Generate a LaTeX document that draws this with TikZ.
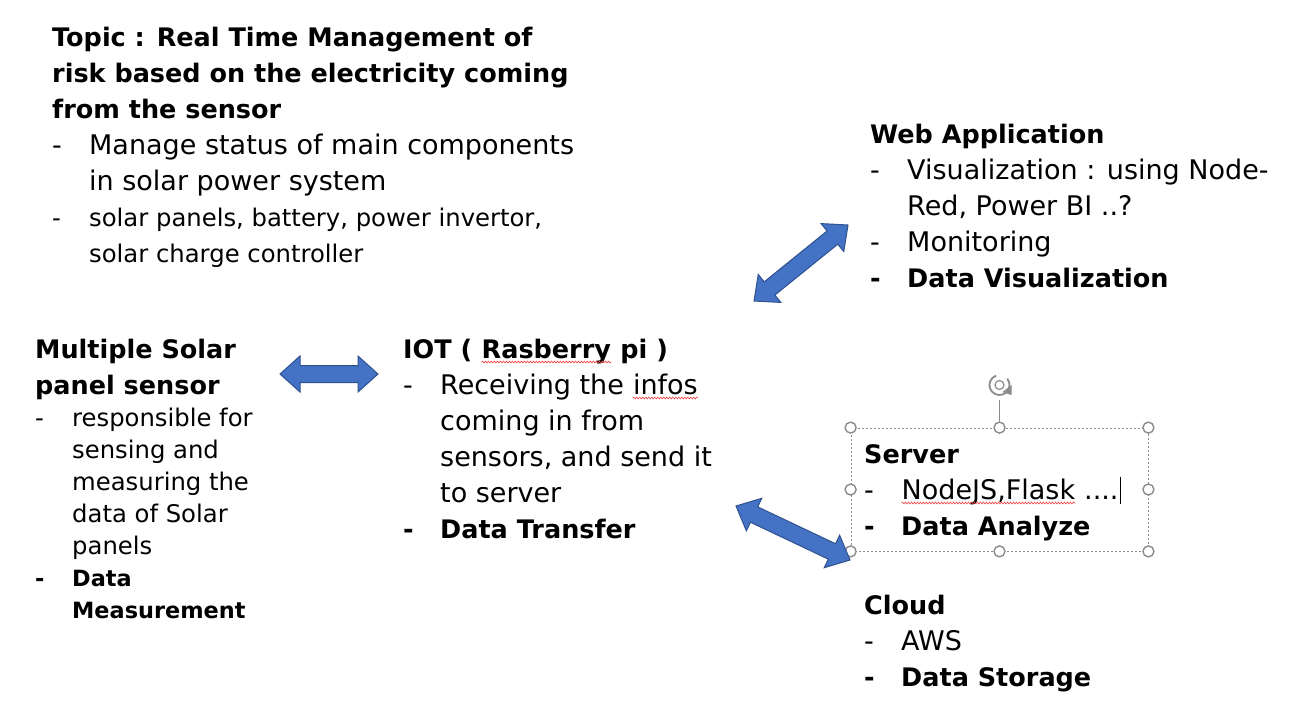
\documentclass[tikz,border=0pt]{standalone}
\usepackage{fontspec}
\setmainfont{DejaVu Sans}
\usetikzlibrary{calc,decorations.pathmorphing}

\definecolor{arrowblue}{HTML}{4472C4}
\definecolor{arrowedge}{HTML}{2F528F}
\definecolor{handlegray}{HTML}{8C8C8C}
\definecolor{typored}{HTML}{F04040}

\newlength{\dashw}\setlength{\dashw}{37pt}
\newcommand{\itm}[1]{\makebox[\dashw][l]{-}#1}
\newcommand{\cnt}[1]{\hspace*{\dashw}#1}
\newcommand{\hd}[1]{{\fontsize{25.5}{36}\selectfont\bfseries #1}}
\newcommand{\sm}{\fontsize{24.3}{32}\selectfont}
\newcommand{\typo}[1]{\tikz[baseline=(w.base), x=1cm, y=1cm]{%
  \node[inner sep=0pt, anchor=base] (w) {#1};
  \draw[typored, line width=0.6pt, decorate,
    decoration={snake, amplitude=0.9pt, segment length=3pt}]
    ([yshift=-4pt]w.base west) -- ([yshift=-4pt]w.base east);}}

% sageata dubla intre doua puncte
\newcommand{\dblarrow}[2]{%
  \filldraw[blockarrow] (#1)
    -- ($(#1)!20pt!(#2)!18pt!90:(#2)$)
    -- ($(#1)!20pt!(#2)!8.5pt!90:(#2)$)
    -- ($(#2)!20pt!(#1)!8.5pt!-90:(#1)$)
    -- ($(#2)!20pt!(#1)!18pt!-90:(#1)$)
    -- (#2)
    -- ($(#2)!20pt!(#1)!18pt!90:(#1)$)
    -- ($(#2)!20pt!(#1)!8.5pt!90:(#1)$)
    -- ($(#1)!20pt!(#2)!8.5pt!-90:(#2)$)
    -- ($(#1)!20pt!(#2)!18pt!-90:(#2)$)
    -- cycle;}

% ancora: linia de baza a ultimului rand
\tikzset{
  block/.style={anchor=base west, align=left, inner sep=0pt,
    font=\fontsize{27}{36}\selectfont},
  blockarrow/.style={fill=arrowblue, draw=arrowedge, line width=1pt},
  selbox/.style={draw=handlegray, dash pattern=on 2pt off 2pt, line width=0.8pt,
    minimum width=297pt, minimum height=123pt, inner sep=0pt},
  handle/.style={circle, draw=handlegray, fill=white, line width=1.4pt,
    inner sep=0pt, minimum size=11pt},
}

\begin{document}
\begin{tikzpicture}[x=1pt, y=-1pt]
  \useasboundingbox[fill=white] (0,0) rectangle (1305,715);

  % blocurile de text
  \node[block] (topic) at (52,262) {%
    \hd{Topic : Real Time Management of}\\
    \hd{risk based on the electricity coming}\\
    \hd{from the sensor}\\
    \itm{Manage status of main components}\\
    \cnt{in solar power system}\\
    {\sm\itm{solar panels, battery, power invertor,}}\\
    {\sm\cnt{solar charge controller}}};

  \node[block] (web) at (870,287) {%
    \hd{Web Application}\\
    \itm{Visualization : using Node-}\\
    \cnt{Red, Power BI ..?}\\
    \itm{Monitoring}\\
    \hd{\itm{Data Visualization}}};

  \node[block, font=\fontsize{27}{32}\selectfont] (sensor) at (35,618) {%
    \hd{Multiple Solar}\\[4pt]
    \hd{panel sensor}\\
    {\sm\itm{responsible for}}\\
    {\sm\cnt{sensing and}}\\
    {\sm\cnt{measuring the}}\\
    {\sm\cnt{data of Solar}}\\
    {\sm\cnt{panels}}\\
    {\fontsize{22.4}{32}\selectfont\bfseries\itm{Data}}\\
    {\fontsize{22.4}{32}\selectfont\bfseries\cnt{Measurement}}};

  \node[block] (iot) at (403,538) {%
    \hd{IOT ( \typo{Rasberry} pi )}\\
    \itm{Receiving the \typo{infos}}\\
    \cnt{coming in from}\\
    \cnt{sensors, and send it}\\
    \cnt{to server}\\
    \hd{\itm{Data Transfer}}};

  \node[block] (server) at (864,535) {%
    \hd{Server}\\
    \itm{\typo{NodeJS,Flask} ....\hspace{1pt}\rule[-5pt]{1pt}{27pt}}\\
    \hd{\itm{Data Analyze}}};

  \node[block] (cloud) at (864,686) {%
    \hd{Cloud}\\
    \itm{AWS}\\
    \hd{\itm{Data Storage}}};

  % cadrul selectat
  \node[selbox] (serverbox) at (999.5,489.5) {};
  \coordinate (rot) at (999.5,385);
  \draw[handlegray, line width=1.4pt] (serverbox.north) -- ++(0,-28);
  \draw[handlegray, line width=1.8pt] ($(rot)+(-40:10)$) arc (-40:250:10);
  \fill[handlegray] ($(rot)+(3,7)$) -- ++(9,-7) -- ++(0,10) -- cycle;
  \draw[handlegray, line width=1.2pt] (rot) circle (4.5);
  \foreach \a in {north west,north,north east,east,south east,south,south west,west}
    \node[handle] at (serverbox.\a) {};

  % sagetile
  \coordinate (sensorR) at (280,374);
  \coordinate (iotL) at (378,374);
  \coordinate (iotNE) at (754,301);
  \coordinate (webSW) at (848,225);
  \coordinate (iotSE) at (736,506);
  \coordinate (serverSW) at (850,560);
  \dblarrow{sensorR}{iotL}
  \dblarrow{iotNE}{webSW}
  \dblarrow{iotSE}{serverSW}
\end{tikzpicture}
\end{document}
